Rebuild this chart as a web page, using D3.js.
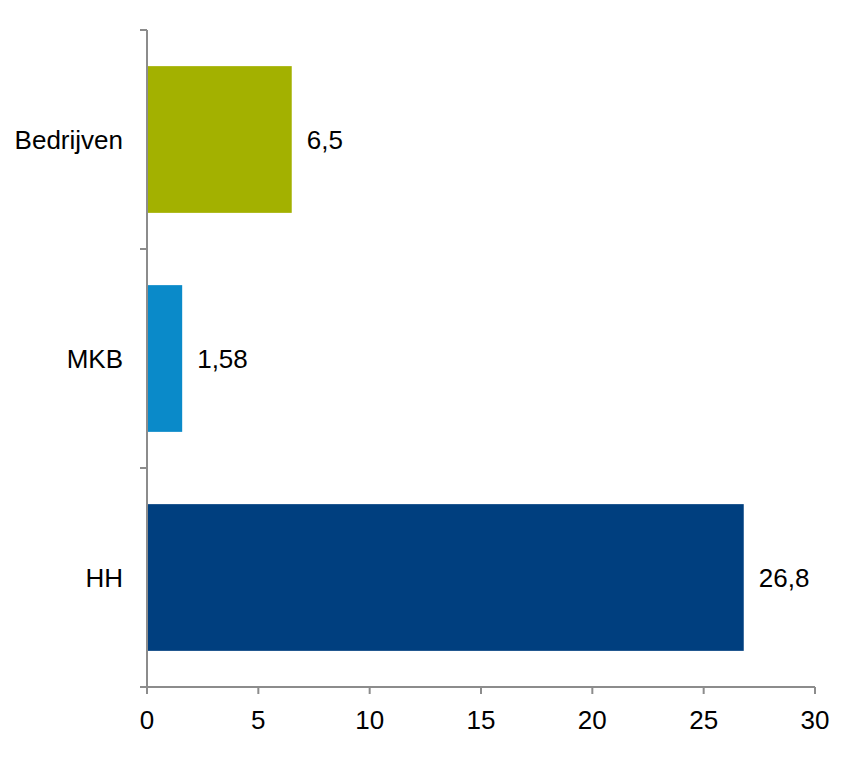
<!DOCTYPE html>
<html><head><meta charset="utf-8">
<script src="https://cdn.jsdelivr.net/npm/d3@7"></script>
<style>body{margin:0;background:#fff}svg{display:block}</style>
</head><body>
<script>
const categories = ["Bedrijven", "MKB", "HH"];
const values = [6.5, 1.58, 26.8];
const valueLabels = ["6,5", "1,58", "26,8"];
const colors = ["#A3B100", "#0A8AC9", "#003F7F"];
const xTicks = [0, 5, 10, 15, 20, 25, 30];

const W = 865, H = 766;
const m = {left: 147, right: 50, top: 30, bottom: 80};
const svg = d3.select("body").append("svg").attr("width", W).attr("height", H);
const x = d3.scaleLinear().domain([0, 30]).range([m.left, 815]);
const y = d3.scaleBand().domain(categories).range([m.top, 687]).paddingInner(0.33).paddingOuter(0.165);
const font = "'Liberation Sans', Arial, sans-serif";
const fs = 26;

svg.selectAll("rect.bar").data(categories).enter().append("rect")
  .attr("x", x(0)).attr("y", d => y(d))
  .attr("width", (d, i) => x(values[i]) - x(0))
  .attr("height", y.bandwidth())
  .attr("fill", (d, i) => colors[i]);

svg.selectAll("text.val").data(categories).enter().append("text")
  .attr("x", (d, i) => x(values[i]) + 15)
  .attr("y", d => y(d) + y.bandwidth() / 2)
  .attr("dy", "0.35em")
  .attr("font-family", font).attr("font-size", fs).attr("fill", "#000")
  .text((d, i) => valueLabels[i]);

const axisColor = "#8c8c8c";
// y axis
const yStep = (687 - m.top) / categories.length;
svg.append("line").attr("x1", x(0)).attr("x2", x(0)).attr("y1", m.top).attr("y2", 687)
  .attr("stroke", axisColor).attr("stroke-width", 2);
d3.range(categories.length + 1).forEach(i => {
  svg.append("line").attr("x1", 140).attr("x2", x(0)).attr("y1", m.top + i * yStep).attr("y2", m.top + i * yStep)
    .attr("stroke", axisColor).attr("stroke-width", 2);
});
svg.selectAll("text.cat").data(categories).enter().append("text")
  .attr("x", 123).attr("y", d => y(d) + y.bandwidth() / 2).attr("dy", "0.35em")
  .attr("text-anchor", "end").attr("font-family", font).attr("font-size", fs).attr("fill", "#000")
  .text(d => d);

// x axis
svg.append("line").attr("x1", x(0) - 7).attr("x2", x(30)).attr("y1", 687).attr("y2", 687)
  .attr("stroke", axisColor).attr("stroke-width", 2);
svg.selectAll("line.xt").data(xTicks).enter().append("line")
  .attr("x1", d => x(d)).attr("x2", d => x(d)).attr("y1", 687).attr("y2", 694)
  .attr("stroke", axisColor).attr("stroke-width", 2);
svg.selectAll("text.xt").data(xTicks).enter().append("text")
  .attr("x", d => x(d)).attr("y", 729).attr("text-anchor", "middle")
  .attr("font-family", font).attr("font-size", fs).attr("fill", "#000")
  .text(d => d);
</script>
</body></html>
